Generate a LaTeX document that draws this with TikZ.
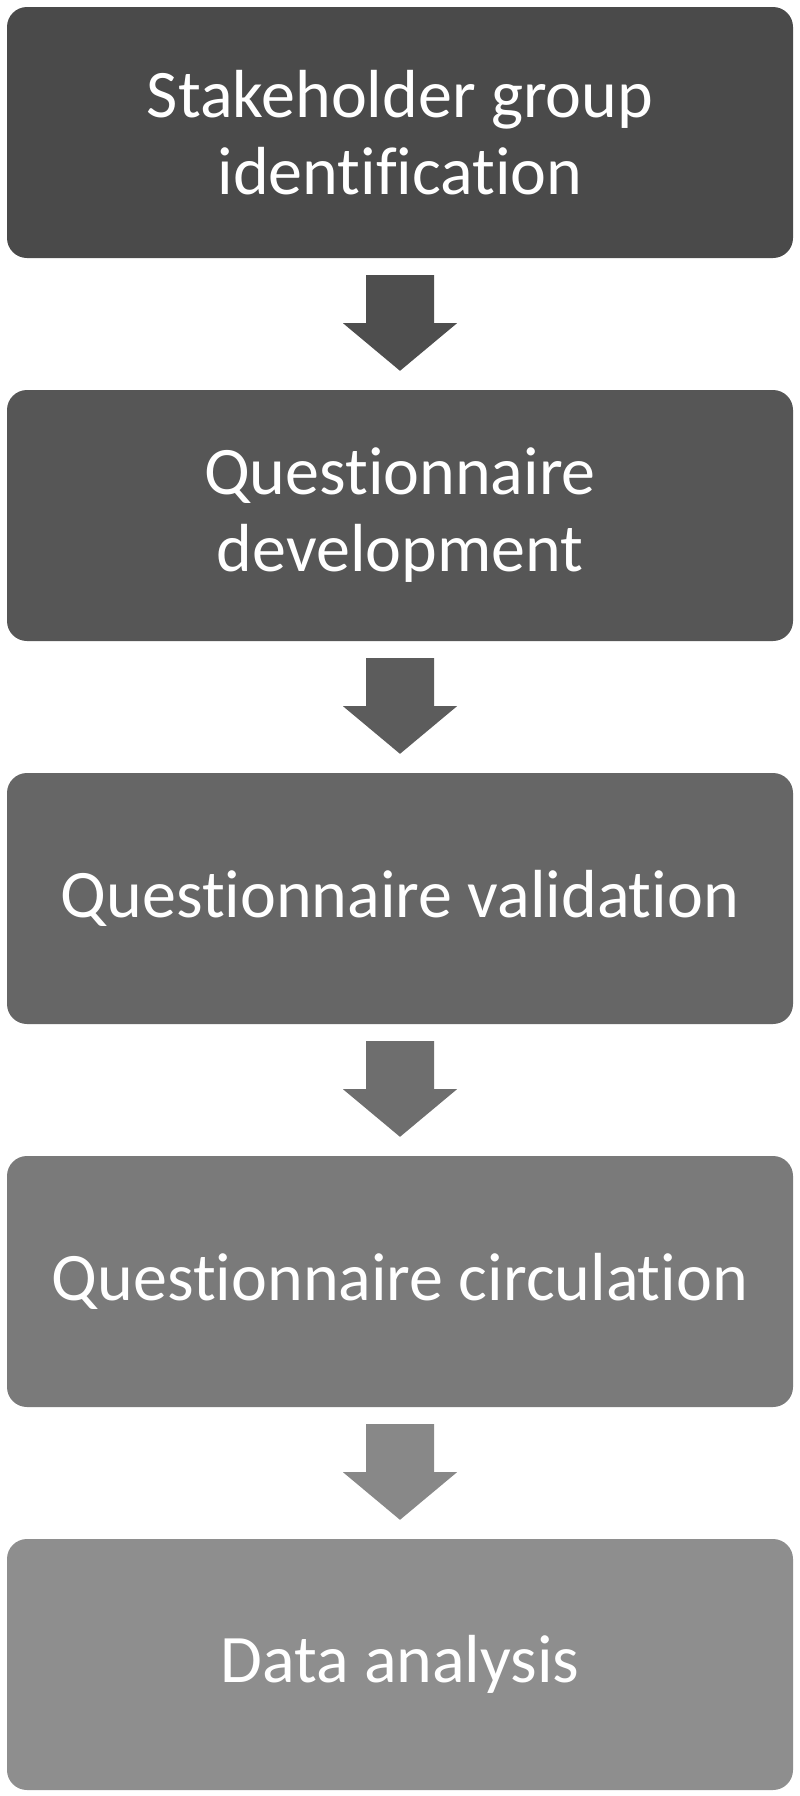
\documentclass[tikz,border=0pt]{standalone}
\usepackage{fontspec}
\setmainfont{Carlito}[Ligatures=NoCommon]
\usetikzlibrary{calc}
\definecolor{g1}{RGB}{74,74,74}
\definecolor{g2}{RGB}{86,86,86}
\definecolor{g3}{RGB}{102,102,102}
\definecolor{g4}{RGB}{122,122,122}
\definecolor{g5}{RGB}{142,142,142}
\definecolor{a1}{RGB}{78,78,78}
\definecolor{a2}{RGB}{92,92,92}
\definecolor{a3}{RGB}{110,110,110}
\definecolor{a4}{RGB}{136,136,136}
\tikzset{
  stepbox/.style={draw=none, rounded corners=20pt, minimum width=786pt, minimum height=251pt,
    inner sep=0pt, text=white, align=center, font=\fontsize{68}{77}\selectfont},
}
\newcommand{\blockarrow}[3]{%
  \fill[#3] ($(#1.south)+(-34,-17)$) -- ($(#1.south)+(34,-17)$) -- ($(#1.south)+(34,-65)$)
    -- ($(#1.south)+(57,-65)$) -- ($(#2.north)+(0,19)$) -- ($(#1.south)+(-57,-65)$)
    -- ($(#1.south)+(-34,-65)$) -- cycle;}
\begin{document}
\begin{tikzpicture}[x=1pt,y=1pt]
\fill[white] (0,0) rectangle (800,-1796);
\useasboundingbox (0,0) rectangle (800,-1796);
\node[stepbox, fill=g1] (b1) at (400,-132.5) {Stakeholder group\\identification};
\node[stepbox, fill=g2] (b2) at (400,-515.5) {Questionnaire\\development};
\node[stepbox, fill=g3] (b3) at (400,-898.5) {Questionnaire validation};
\node[stepbox, fill=g4] (b4) at (400,-1281.5) {Questionnaire circulation};
\node[stepbox, fill=g5] (b5) at (400,-1664.5) {Data analysis};
\blockarrow{b1}{b2}{a1}
\blockarrow{b2}{b3}{a2}
\blockarrow{b3}{b4}{a3}
\blockarrow{b4}{b5}{a4}
\end{tikzpicture}
\end{document}
